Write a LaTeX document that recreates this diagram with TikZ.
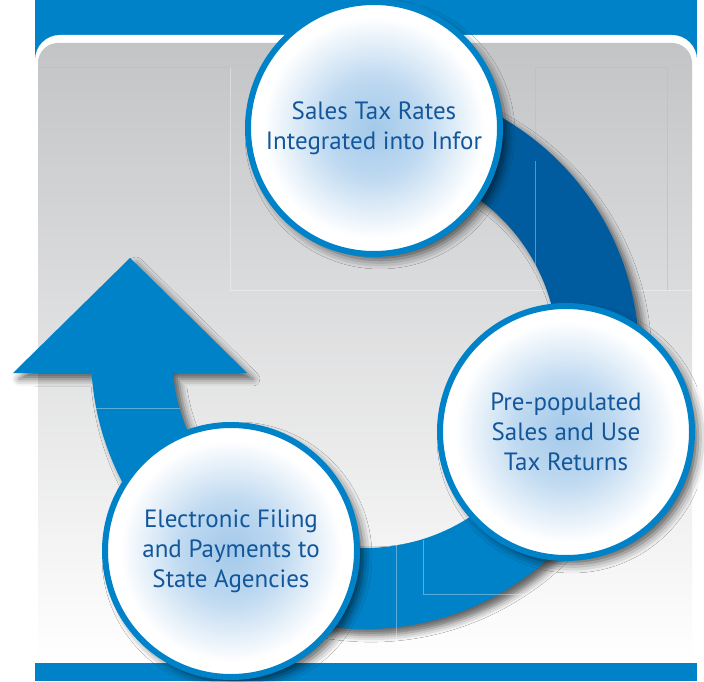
\documentclass[tikz,border=0pt]{standalone}
\usepackage{fontspec}
\setmainfont{PT Sans}
\usetikzlibrary{shadows.blur}
\definecolor{barblue}{HTML}{0082C8}
\definecolor{darkband}{HTML}{005C9E}
\definecolor{txtblue}{HTML}{13579A}
\definecolor{bubc}{HTML}{A3C9EA}
\definecolor{paneltop}{HTML}{C3C4C6}
\definecolor{panelmid}{HTML}{DEDFE0}
\definecolor{faintline}{HTML}{A9C5DB}
\pgfdeclareradialshading{bubble}{\pgfpoint{0bp}{0bp}}{color(0bp)=(bubc); color(10bp)=(bubc!70!white); color(22bp)=(white); color(25bp)=(white); color(50bp)=(white)}
\tikzset{
  stagecircle/.style={circle, draw=barblue, line width=6pt, minimum size=252pt,
    inner sep=0pt, shade, shading=bubble, text=txtblue, align=center,
    font=\fontsize{25}{30}\selectfont,
    blur shadow={shadow xshift=6pt, shadow yshift=-6pt, shadow blur radius=9pt, shadow opacity=65}},
  bandshadow/.style={blur shadow={shadow xshift=6pt, shadow yshift=-6pt, shadow blur radius=7pt, shadow opacity=60}},
  faint/.style={draw=faintline, line width=0.7pt, opacity=0.7},
  faintw/.style={draw=white, line width=0.7pt, opacity=0.35}
}
\begin{document}
\begin{tikzpicture}[x=1pt,y=1pt]
\useasboundingbox (0,0) rectangle (704,681);
% top bar and panel
\fill[barblue] (35,620) rectangle (697,681);
\fill[white] (35,18) -- (35,621) arc[start angle=180,end angle=90,radius=25] -- (672,646) arc[start angle=90,end angle=0,radius=25] -- (697,18) -- cycle;
\shade[top color=paneltop, middle color=panelmid, bottom color=white] (38,18) -- (38,618) arc[start angle=180,end angle=90,radius=20] -- (672,638) arc[start angle=90,end angle=0,radius=20] -- (692,18) -- cycle;
\fill[barblue] (35,0) rectangle (697,18);
% faint slice lines on panel
\draw[faint] (38,614) -- (230,614);
\draw[faintw] (230,614) -- (230,391) -- (692,391);
\draw[faint] (535,391) -- (535,614) -- (667,614) -- (667,391);
% ring band: dark part
\coordinate (rc) at (365,326);
\fill[darkband, bandshadow] ([shift={(80:274)}]rc) arc[start angle=80, end angle=-24, radius=274]
  -- ([shift={(-24:193)}]rc) arc[start angle=-24, end angle=80, radius=193] -- cycle;
% ring band: light part with arrowhead
\coordinate (tipL) at (13,308);
\coordinate (apex) at (130,423);
\coordinate (tipR) at (247,308);
\fill[barblue, bandshadow] ([shift={(-18:274)}]rc) arc[start angle=-18, end angle=-176.23, radius=274]
  -- (tipL) -- (apex) -- (tipR) -- ([shift={(-174.65:193)}]rc) arc[start angle=-174.65, end angle=-18, radius=193] -- cycle;
% faint slice lines over band
\draw[faintw] (535,391) -- (535,520);
\draw[faintw] (95,273) -- (180,273);
\draw[faintw] (396,136) -- (396,18);
\draw[faintw] (423,141) -- (423,87) -- (545,87);
% stage circles
\node[stagecircle] (top) at (374,553) {Sales Tax Rates\\Integrated into Infor};
\node[stagecircle] (right) at (566,249) {Pre-populated\\Sales and Use\\Tax Returns};
\node[stagecircle] (left) at (231,130) {Electronic Filing\\and Payments to\\State Agencies};
\end{tikzpicture}
\end{document}
